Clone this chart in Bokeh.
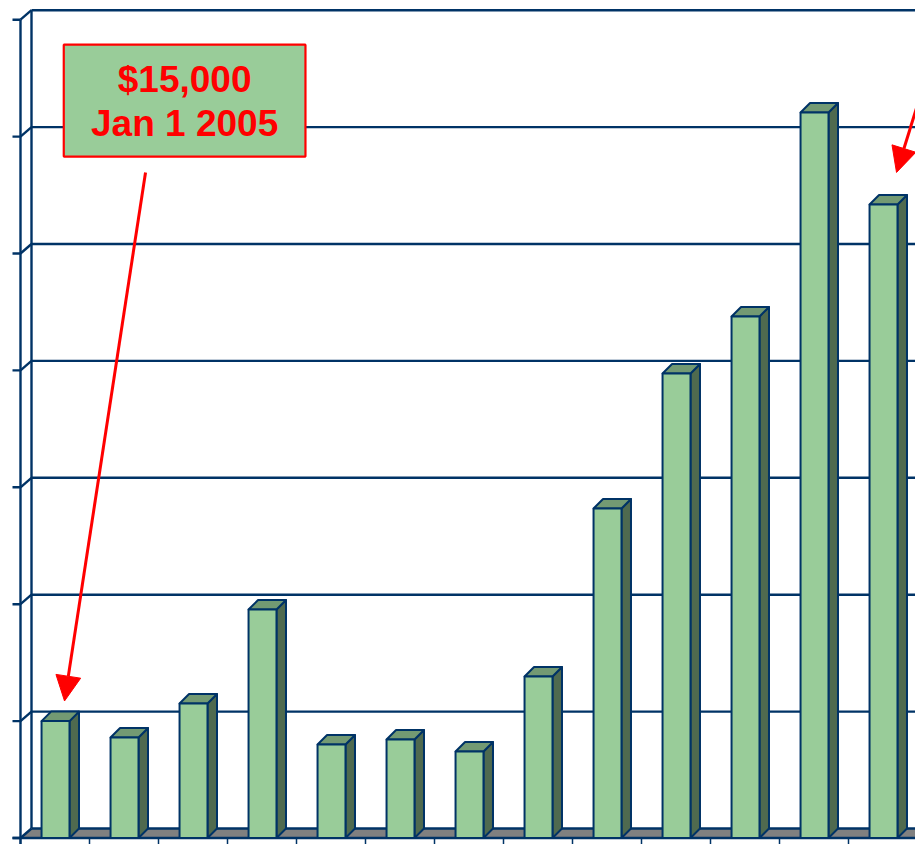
from bokeh.plotting import figure
from bokeh.models import Range1d, Arrow, NormalHead
from bokeh.embed import file_html
from bokeh.resources import INLINE
from bokeh.core.properties import value

# ---------------- data ----------------
months = ["Jan 2005", "Feb 2005", "Mar 2005", "Apr 2005", "May 2005", "Jun 2005",
          "Jul 2005", "Aug 2005", "Sep 2005", "Oct 2005", "Nov 2005", "Dec 2005",
          "Jan 2006"]
balances = [15000, 12900, 17260, 29320, 12000, 12640, 11100, 20720,
            42280, 59600, 66920, 93090, 81290]
tick_values = [0, 15000, 30000, 45000, 60000, 75000, 90000, 105000]

note_lines = ["$15,000", "Jan 1 2005"]
note_box = dict(left=0.627, right=4.13, top=101800, bottom=87440)
note_text_y = [97370, 91720]
arrow_start_x = [1.812, 13.19]
arrow_start_y = [85400, 99500]
arrow_tip_x = [0.638, 12.696]
arrow_tip_y = [17580, 85400]

# ---------------- styles / geometry ----------------
NAVY = "#003366"
FRONT = "#99CC99"
SIDE = "#4F6A4F"
TOP = "#739A73"
FLOOR = "#808080"

W, H = 915, 844
PX_X = 69.0                 # pixels per category slot
PX_Y = 116.9 / 15000.0      # pixels per dollar
x0 = -20 / PX_X
x1 = x0 + W / PX_X
y0 = -6.5 / PX_Y
y1 = y0 + H / PX_Y

WALL_DX = 11 / PX_X
WALL_DY = 9.5 / PX_Y
BAR_DX = 9.5 / PX_X
BAR_DY = 9.5 / PX_Y
BAR_OFF = 0.305
BAR_W = 0.405
TICK_LEN_X = 8 / PX_X
TICK_LEN_Y = 7 / PX_Y

p = figure(width=W, height=H, output_backend="svg", toolbar_location=None,
           x_range=Range1d(x0, x1), y_range=Range1d(y0, y1),
           min_border=0, min_border_left=0, min_border_right=0,
           min_border_top=0, min_border_bottom=0)
p.axis.visible = False
p.xgrid.visible = False
p.ygrid.visible = False
p.outline_line_color = None
p.background_fill_color = "white"
p.border_fill_color = "white"

n = len(balances)
x_end = x1 + 1

# floor
p.patch([0, WALL_DX, x_end, x_end], [0, WALL_DY, WALL_DY, 0],
        fill_color=FLOOR, line_color=None)

# back wall gridlines
p.segment(x0=[WALL_DX] * len(tick_values), y0=[v + WALL_DY for v in tick_values],
          x1=[x_end] * len(tick_values), y1=[v + WALL_DY for v in tick_values],
          line_color=NAVY, line_width=2.4)
# side wall diagonals
p.segment(x0=[0] * len(tick_values), y0=tick_values,
          x1=[WALL_DX] * len(tick_values), y1=[v + WALL_DY for v in tick_values],
          line_color=NAVY, line_width=2.4)
# y ticks
p.segment(x0=[-TICK_LEN_X] * len(tick_values), y0=tick_values,
          x1=[0] * len(tick_values), y1=tick_values,
          line_color=NAVY, line_width=2.4)
# front and back vertical edges of left wall
p.segment(x0=[0, WALL_DX], y0=[-TICK_LEN_Y, WALL_DY],
          x1=[0, WALL_DX], y1=[tick_values[-1], tick_values[-1] + WALL_DY],
          line_color=NAVY, line_width=2.4)
# front x axis line
p.segment(x0=[-TICK_LEN_X], y0=[0], x1=[x_end], y1=[0], line_color=NAVY, line_width=2.4)
# x ticks at category boundaries
bounds = list(range(n + 1))
p.segment(x0=bounds, y0=[0] * len(bounds), x1=bounds, y1=[-TICK_LEN_Y] * len(bounds),
          line_color=NAVY, line_width=1.5)

# bars
lefts = [i + BAR_OFF for i in range(n)]
rights = [l + BAR_W for l in lefts]
side_xs = [[r, r + BAR_DX, r + BAR_DX, r] for r in rights]
side_ys = [[v, v + BAR_DY, BAR_DY, 0] for v in balances]
top_xs = [[l, l + BAR_DX, r + BAR_DX, r] for l, r in zip(lefts, rights)]
top_ys = [[v, v + BAR_DY, v + BAR_DY, v] for v in balances]
p.patches(side_xs, side_ys, fill_color=SIDE, line_color=NAVY, line_width=2,
          line_join="round")
p.patches(top_xs, top_ys, fill_color=TOP, line_color=NAVY, line_width=2,
          line_join="round")
p.quad(left=lefts, right=rights, bottom=[0] * n, top=balances,
       fill_color=FRONT, line_color=NAVY, line_width=2)

# annotation box
p.quad(left=[note_box["left"]], right=[note_box["right"]],
       top=[note_box["top"]], bottom=[note_box["bottom"]],
       fill_color=FRONT, line_color="#FF0000", line_width=2.2)
cx = (note_box["left"] + note_box["right"]) / 2
p.text(x=[cx, cx], y=note_text_y, text=note_lines,
       text_color="#FF0000", text_font=value("Liberation Sans"),
       text_font_style="bold", text_font_size="37px",
       text_align="center", text_baseline="alphabetic")

# arrows
for xs, ys, xe, ye in zip(arrow_start_x, arrow_start_y, arrow_tip_x, arrow_tip_y):
    p.add_layout(Arrow(end=NormalHead(size=25, fill_color="#FF0000",
                                      line_color="#FF0000", line_width=1),
                       x_start=xs, y_start=ys, x_end=xe, y_end=ye,
                       line_color="#FF0000", line_width=3))

open("out.html", "w").write(file_html(p, INLINE))
